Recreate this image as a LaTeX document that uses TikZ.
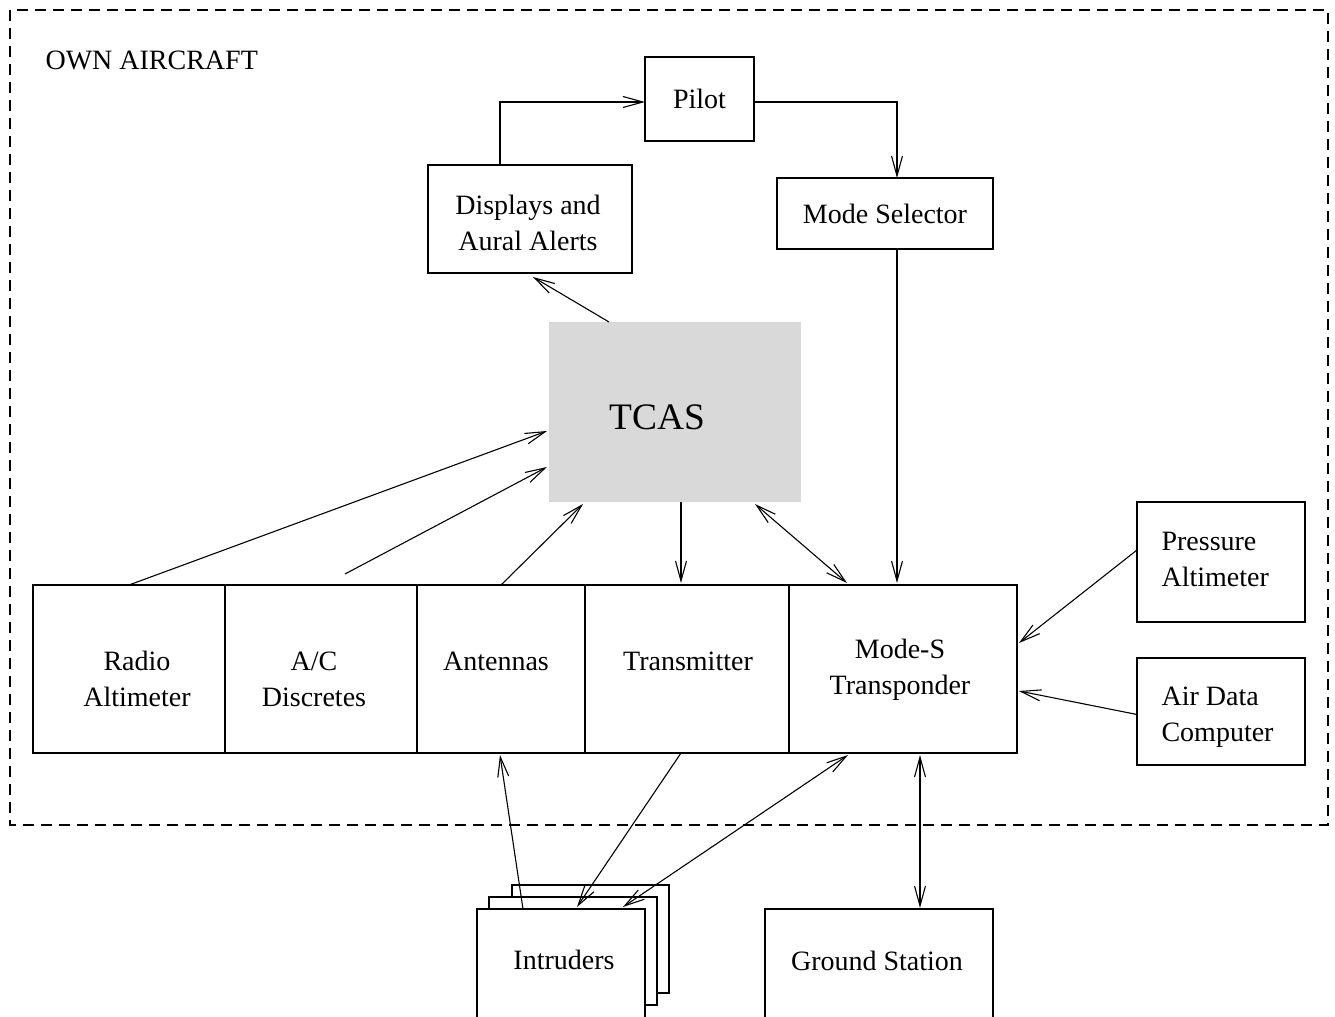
\documentclass[tikz,border=0pt]{standalone}
\usepackage{fontspec}
\setmainfont{Liberation Serif}
\usepackage{tikz}
\usetikzlibrary{arrows.meta,positioning,calc}
\definecolor{tcasgray}{RGB}{217,217,217}
\tikzset{
mybox/.style={
  draw,
  rectangle,
  inner sep=0pt,
  outer sep=0pt,
  align=center
  },
mycell/.style={
  draw,
  rectangle,
  outer sep=0pt,
  minimum height=84pt
  },
mytxt/.style={
  align=center,
  inner sep=0pt
  },
myarr/.style={-{Straight Barb[length=10pt,width=5.5pt]}},
mydarr/.style={{Straight Barb[length=10pt,width=5.5pt]}-{Straight Barb[length=10pt,width=5.5pt]}},
myframe/.style={dash pattern=on 5.5pt off 3.5pt}
}

\begin{document}
\begin{tikzpicture}[x=0.5pt,y=-0.5pt,line width=0.55pt,
    font=\fontsize{14}{18}\selectfont]
\useasboundingbox (0,0) rectangle (1335,1017);
\draw[myframe] (10,10) rectangle (1328,825);
\node[anchor=base west,inner sep=0pt] (own) at (45,69) {OWN AIRCRAFT};

% upper part
\node[mybox,minimum width=54.5pt,minimum height=42pt] (pilot) at (699.5,99) {Pilot};
\node[mybox,minimum width=102pt,minimum height=54pt] (displays) at (530,219) {};
\node[mytxt] (displaystxt) at (528,223) {Displays and\\Aural Alerts};
\node[mybox,minimum width=108pt,minimum height=35.5pt] (modesel) at (885,213.5)
  {Mode Selector};
\node[rectangle,fill=tcasgray,inner sep=0pt,outer sep=0pt,
  minimum width=126pt,minimum height=90pt] (tcas) at (675,412) {};
\node[mytxt,font=\fontsize{18.7}{22}\selectfont] (tcastxt) at (657,417) {TCAS};

% row of units
\node[mycell,minimum width=96pt] (radio) at (129,669) {};
\node[mycell,minimum width=96pt,right=0pt of radio] (discretes) {};
\node[mycell,minimum width=84pt,right=0pt of discretes] (antennas) {};
\node[mycell,minimum width=102pt,right=0pt of antennas] (transmitter) {};
\node[mycell,minimum width=114pt,right=0pt of transmitter] (transponder) {};
\node[mytxt] (radiotxt) at (137,679) {Radio\\Altimeter};
\node[mytxt] (discretestxt) at (314,679) {A/C\\Discretes};
\node[mytxt] (antennastxt) at (496,661) {Antennas};
\node[mytxt] (transmittertxt) at (688,661) {Transmitter};
\node[mytxt] (transpondertxt) at (900,669.5) {Mode-S\\Transponder};

\node[mybox,minimum width=84pt,minimum height=60pt] (pressure) at (1221,562) {};
\node[mytxt,align=left,anchor=west] (pressuretxt) at (1161,559) {Pressure\\Altimeter};
\node[mybox,minimum width=84pt,minimum height=53.5pt] (airdata) at (1221,711.5) {};
\node[mytxt,align=left,anchor=west] (airdatatxt) at (1161,717) {Air Data\\Computer};

% outside
\node[mybox,fill=white,minimum width=78.5pt,minimum height=54pt] (intrudersc) at (590.5,939) {};
\node[mybox,fill=white,minimum width=84pt,minimum height=54pt] (intrudersb) at (573,951) {};
\node[mybox,fill=white,minimum width=84pt,minimum height=58pt] (intruders) at (561,967) {};
\node[mytxt] (intruderstxt) at (564,960) {Intruders};
\node[mybox,minimum width=114pt,minimum height=58pt] (ground) at (879,967) {};
\node[mytxt] (groundtxt) at (877,961) {Ground Station};

% connections
\draw[myarr] ($(displays.north)+(-30,0)$) |- ($(pilot.west)+(0,3)$);
\draw[myarr] ($(pilot.east)+(0,3)$) -| ($(modesel.north)+(12,0)$);
\draw[myarr] ($(tcas.north)+(-66,0)$) -- ($(displays.south)+(3,4)$);
\draw[myarr] ($(modesel.south)+(12,0)$) -- ($(transponder.north)+(-6,-2)$);
\draw[myarr] (radio.north) -- ($(tcas.west)+(-2,19)$);
\draw[myarr] ($(discretes.north)+(24,-11)$) -- ($(tcas.west)+(-2,55)$);
\draw[myarr] (antennas.north) -- ($(tcas.south)+(-92,2)$);
\draw[myarr] ($(tcas.south)+(6,0)$) -- ($(transmitter.north)+(-6,-2)$);
\draw[mydarr] ($(tcas.south)+(80,2)$) -- ($(transponder.north)+(-56,-2)$);
\draw[myarr] ($(pressure.west)+(0,-12)$) -- ($(transponder.east)+(2,-26)$);
\draw[myarr] ($(airdata.west)+(0,3)$) -- ($(transponder.east)+(2,22)$);
\draw[myarr] ($(intruders.north)+(-38,0)$) -- ($(antennas.south)+(-1,2)$);
\draw[myarr] ($(transmitter.south)+(-6,0)$) -- ($(intruders.north)+(16,-2)$);
\draw[mydarr] ($(transponder.south)+(-55,2)$) -- ($(intruders.north)+(62,-2)$);
\draw[mydarr] ($(transponder.south)+(17,2)$) -- ($(ground.north)+(41,-1)$);
\end{tikzpicture}
\end{document}
